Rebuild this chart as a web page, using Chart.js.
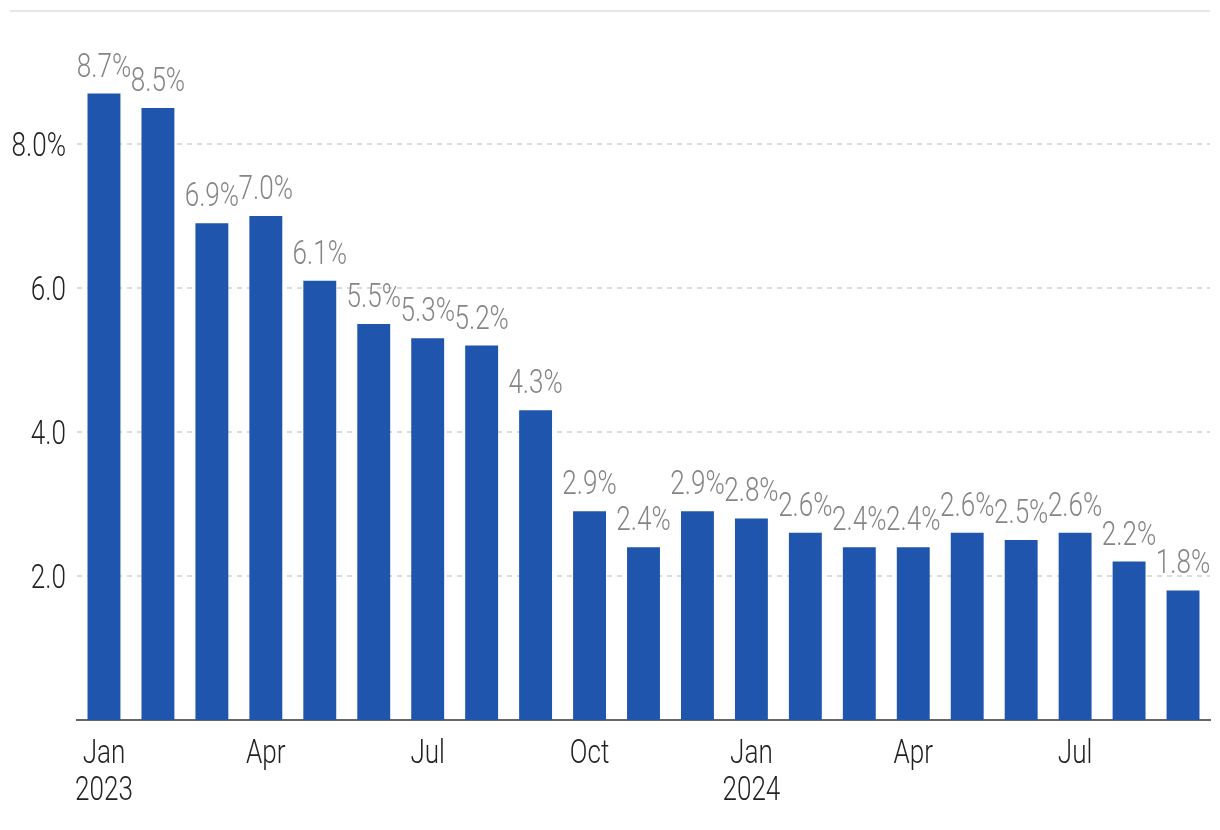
<!DOCTYPE html>
<html>
<head>
<meta charset="utf-8">
<script src="https://cdn.jsdelivr.net/npm/chart.js@4"></script>
<style>
  html, body { margin: 0; padding: 0; background: #fff; }
  #wrap { width: 1220px; height: 830px; }
</style>
</head>
<body>
<div id="wrap"><canvas id="barChart"></canvas></div>
<script>
const months = ['Jan', 'Feb', 'Mar', 'Apr', 'May', 'Jun', 'Jul', 'Aug', 'Sep', 'Oct', 'Nov', 'Dec',
                'Jan', 'Feb', 'Mar', 'Apr', 'May', 'Jun', 'Jul', 'Aug', 'Sep'];
const years = ['2023', '', '', '', '', '', '', '', '', '', '', '',
               '2024', '', '', '', '', '', '', '', ''];
const inflation = [8.7, 8.5, 6.9, 7.0, 6.1, 5.5, 5.3, 5.2, 4.3, 2.9, 2.4, 2.9,
                   2.8, 2.6, 2.4, 2.4, 2.6, 2.5, 2.6, 2.2, 1.8];
const yTicks = [2, 4, 6, 8];

// no condensed face installed, so text is drawn squeezed by hand
const FONT = '300 33px Roboto, sans-serif';
const SQUEEZE = 0.79;

function narrowText(ctx, text, x, y, align, color) {
    ctx.save();
    ctx.font = FONT;
    ctx.fillStyle = color;
    ctx.textAlign = align;
    ctx.textBaseline = 'alphabetic';
    ctx.translate(x, y);
    ctx.scale(SQUEEZE, 1);
    ctx.fillText(text, 0, 0);
    ctx.restore();
}

const textLayer = {
    id: 'textLayer',
    beforeDraw(chart) {
        // light rule across the top
        const ctx = chart.ctx;
        const area = chart.chartArea;
        ctx.save();
        ctx.strokeStyle = '#e6e6e6';
        ctx.lineWidth = 2;
        ctx.beginPath();
        ctx.moveTo(10, area.top + 1);
        ctx.lineTo(area.right, area.top + 1);
        ctx.stroke();
        ctx.restore();
    },
    afterDraw(chart) {
        const ctx = chart.ctx;
        const xs = chart.scales.x;
        const ys = chart.scales.y;

        // bar value labels
        chart.getDatasetMeta(0).data.forEach((bar, i) => {
            narrowText(ctx, inflation[i].toFixed(1) + '%', bar.x, bar.y - 17, 'center', '#858585');
        });

        // y tick labels, right aligned
        yTicks.forEach(v => {
            const txt = v === 8 ? '8.0%' : v.toFixed(1);
            narrowText(ctx, txt, 66, ys.getPixelForValue(v) + 12.5, 'right', '#222');
        });

        // x tick labels, one per quarter
        months.forEach((m, i) => {
            if (i % 3 !== 0) return;
            const x = xs.getPixelForValue(i);
            narrowText(ctx, m, x, xs.top + 43, 'center', '#222');
            if (years[i]) narrowText(ctx, years[i], x, xs.top + 80, 'center', '#222');
        });
    }
};

const config = {
    type: 'bar',
    data: {
        labels: months,
        datasets: [{
            label: 'Inflation',
            data: inflation,
            backgroundColor: '#1f55ad',
            categoryPercentage: 1,
            barPercentage: 0.61
        }]
    },
    options: {
        responsive: true,
        maintainAspectRatio: false,
        animation: false,
        layout: {
            autoPadding: false,
            padding: { left: 10, right: 10, top: 10, bottom: 0 }
        },
        plugins: {
            legend: { display: false },
            tooltip: { enabled: false }
        },
        scales: {
            x: {
                grid: { display: false },
                border: { color: '#666', width: 2 },
                ticks: { display: false },
                afterFit: (scale) => { scale.height = 110; }
            },
            y: {
                min: 0,
                max: 9.86,
                afterBuildTicks: (scale) => {
                    scale.ticks = yTicks.map(v => ({ value: v }));
                },
                grid: {
                    color: '#dcdcdc',
                    lineWidth: 2,
                    drawTicks: false
                },
                border: { display: false, dash: [5, 5] },
                ticks: { display: false },
                afterFit: (scale) => { scale.width = 67; }
            }
        }
    },
    plugins: [textLayer]
};

new Chart(document.getElementById('barChart'), config);
</script>
</body>
</html>
